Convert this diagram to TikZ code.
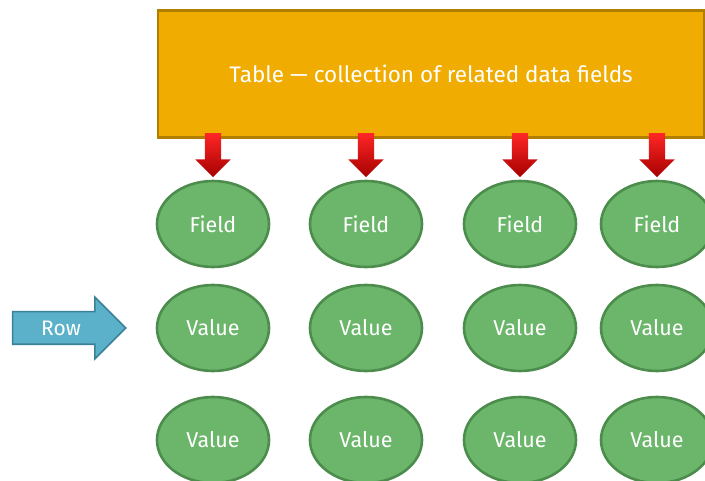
\documentclass[tikz,border=0pt]{standalone}
\usepackage{fontspec}
\setmainfont{Fira Sans}
\usetikzlibrary{shapes.arrows, shapes.geometric}
\definecolor{tablefill}{HTML}{F0AC00}
\definecolor{tableline}{HTML}{B07F00}
\definecolor{cellfill}{HTML}{6CB66C}
\definecolor{cellline}{HTML}{4C8C4C}
\definecolor{rowfill}{HTML}{5BB1C9}
\definecolor{rowline}{HTML}{3A8197}
\tikzset{
  cell/.style={ellipse, draw=cellline, line width=2.6pt, fill=cellfill,
    minimum width=112pt, minimum height=86pt, text=white,
    font=\fontsize{21.5}{24}\selectfont},
  downarrow/.style={single arrow, shape border rotate=270, draw=none,
    top color=red!85!white, bottom color=red!65!black,
    inner sep=8pt, minimum height=44pt, single arrow head extend=9.5pt}
}
\begin{document}
\begin{tikzpicture}[x=1pt, y=-1pt]
    \useasboundingbox (0,0) rectangle (705,481);

    % Table box
    \node[draw=tableline, line width=2.4pt, fill=tablefill,
      minimum width=546pt, minimum height=127pt, text=white,
      font=\fontsize{22.5}{26}\selectfont]
      (table) at (431,74) {Table --- collection of related data fields};

    % Fields and values
    \foreach \x/\col in {213/a, 366/b, 520/c, 657/d}
    {
      \node[downarrow] (arr\col) at (\x,151) {};
      \node[cell] (field\col) at (\x,224) {Field};
      \node[cell] (valone\col) at (\x,328) {Value};
      \node[cell] (valtwo\col) at (\x,440) {Value};
    }

    % Row pointer
    \node[single arrow, draw=rowline, line width=1.6pt, fill=rowfill,
      text=white, font=\fontsize{21}{24}\selectfont,
      text height=15pt, text depth=0pt, inner xsep=4pt, inner ysep=8pt,
      minimum height=113pt, single arrow head extend=14.5pt]
      (row) at (61,328) {Row};
\end{tikzpicture}
\end{document}
